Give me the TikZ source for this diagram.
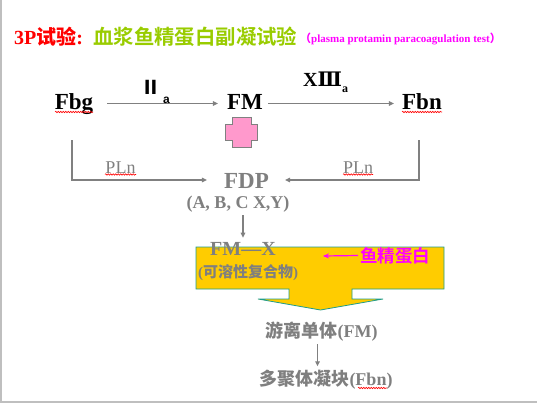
\documentclass[tikz,border=0pt]{standalone}
\usepackage{fontspec}
\setmainfont{Liberation Serif}
\newfontfamily\cjk{Noto Sans CJK SC Bold}
\newfontfamily\numeralfont{DejaVu Serif}
\newfontfamily\arialfont{Liberation Sans}
\usetikzlibrary{arrows.meta,decorations.pathmorphing}
\definecolor{txtgray}{HTML}{7F7F7F}
\definecolor{linegray}{HTML}{808080}
\definecolor{titlegreen}{HTML}{99CC00}
\definecolor{boxyellow}{HTML}{FFCC00}
\definecolor{boxedge}{HTML}{1F9C8C}
\definecolor{crosspink}{HTML}{FF99CC}
\definecolor{protpink}{HTML}{FF00FF}

\begin{document}
\begin{tikzpicture}[x=1pt,y=-1pt,
  flow/.style={draw=linegray,line width=1.5pt,-{Triangle[length=5pt,width=4.5pt]}},
  bigterm/.style={font=\fontsize{23}{26}\selectfont\bfseries,text height=16pt,text depth=5pt,inner sep=3pt,anchor=base},
  enzyme/.style={font=\fontsize{19}{22}\selectfont\bfseries,inner sep=0pt,anchor=base west},
  graytxt/.style={text=txtgray,font=\fontsize{18}{21}\selectfont\bfseries,inner sep=3pt},
  wavy/.style={draw=red,line width=0.6pt,decorate,decoration={snake,amplitude=0.7pt,segment length=2.5pt}}]
\useasboundingbox (0,0) rectangle (537,404);
\draw[gray!50,line width=1.5pt] (1,0) -- (1,402) -- (537,402);

% title
\node[anchor=base west,inner sep=0pt,text=red,font=\fontsize{20}{24}\selectfont\bfseries] (title) at (14,45)
  {3P{\cjk 试验}:};
\node[anchor=base west,inner sep=0pt,text=titlegreen,font=\fontsize{20.4}{24}\selectfont\cjk] (titlecn) at (93,45)
  {血浆鱼精蛋白副凝试验};
\node[anchor=base west,inner sep=0pt,text=protpink,font=\fontsize{11}{13}\selectfont\bfseries] (titleen) at (300,43)
  {{\cjk （}plasma protamin paracoagulation test{\cjk ）}};

% Fbg -> FM -> Fbn
\node[bigterm] (fbg) at (74,109) {Fbg};
\node[bigterm] (fm) at (245,109) {FM};
\node[bigterm] (fbn) at (422,109) {Fbn};
\draw[flow] ([xshift=11]fbg.east) -- ([xshift=-6]fm.west);
\draw[flow] ([xshift=2]fm.east) -- ([xshift=-5]fbn.west);
\node[enzyme] (f2a) at (141,94) {{\cjk Ⅱ}\hspace{3pt}\raisebox{-9pt}{\arialfont\fontsize{12}{12}\selectfont a}};
\node[enzyme,font=\fontsize{20}{22}\selectfont\bfseries] (f13a) at (303,86.5) {X{\numeralfont Ⅲ}\raisebox{-6pt}{\fontsize{12}{12}\selectfont a}};
\draw[wavy] (55,112) -- (93,112);
\draw[wavy] (402,112) -- (442,112);

\draw[fill=crosspink,draw=linegray,line width=0.8pt] (232,117) -- (251,117) -- (251,124) -- (257,124)
  -- (257,140) -- (251,140) -- (251,147) -- (232,147) -- (232,140) -- (225,140) -- (225,124) -- (232,124) -- cycle;

% plasmin
\node[graytxt,font=\fontsize{23}{26}\selectfont\bfseries,text height=16pt,text depth=0pt,anchor=base] (fdp) at (246.5,188) {FDP};
\node[graytxt,text depth=4pt,anchor=base] (abc) at (238,208) {(A, B, C X,Y)};
\draw[flow,shorten >=14pt] ([shift={(-2,23)}]fbg.south) |- (fdp.west);
\draw[flow,shorten >=13pt] ([shift={(-3,23)}]fbn.south) |- (fdp.east);
\node[text=txtgray,font=\fontsize{18}{21}\selectfont,anchor=base] (pln1) at (120.5,173) {PLn};
\node[text=txtgray,font=\fontsize{18}{21}\selectfont,anchor=base] (pln2) at (358,173) {PLn};
\draw[wavy] (105,174.5) -- (136,174.5);
\draw[wavy] (343,174.5) -- (373,174.5);

% complex box with arrow
\draw[fill=boxyellow,draw=boxedge,line width=0.8pt] (196,247) -- (444,247) -- (444,289) -- (352,289)
  -- (352,299) -- (383,299) -- (320.5,310) -- (258,299) -- (289,299) -- (289,289) -- (196,289) -- cycle;
\node[graytxt,font=\fontsize{20}{24}\selectfont\bfseries,anchor=base] (fmx) at (243,255) {FM---X};
\node[graytxt,font=\fontsize{15}{18}\selectfont\bfseries,anchor=base] (sol) at (248,277) {({\cjk 可溶性复合物})};
\draw[flow] (fmx.north |- abc.south) -- ([yshift=1]fmx.north);
\node[text=protpink,font=\fontsize{17.5}{20}\selectfont\cjk,inner sep=2pt,anchor=west] (prot) at (358,255.5) {鱼精蛋白};
\coordinate (prottip) at (323,256);
\draw[draw=protpink,line width=1.2pt,-{Stealth[length=6pt,width=5pt]}] (prot.west) -- (prottip);

% monomers -> clot
\node[graytxt,anchor=base] (free) at (321.5,337) {{\cjk 游离单体}(FM)};
\node[graytxt,anchor=base] (clot) at (326,385) {{\cjk 多聚体凝块}(Fbn)};
\draw[flow] ([xshift=-4]free.south) -- ([xshift=-4]clot.north -| free.south);
\draw[wavy] (358,388) -- (387,388);
\end{tikzpicture}
\end{document}
